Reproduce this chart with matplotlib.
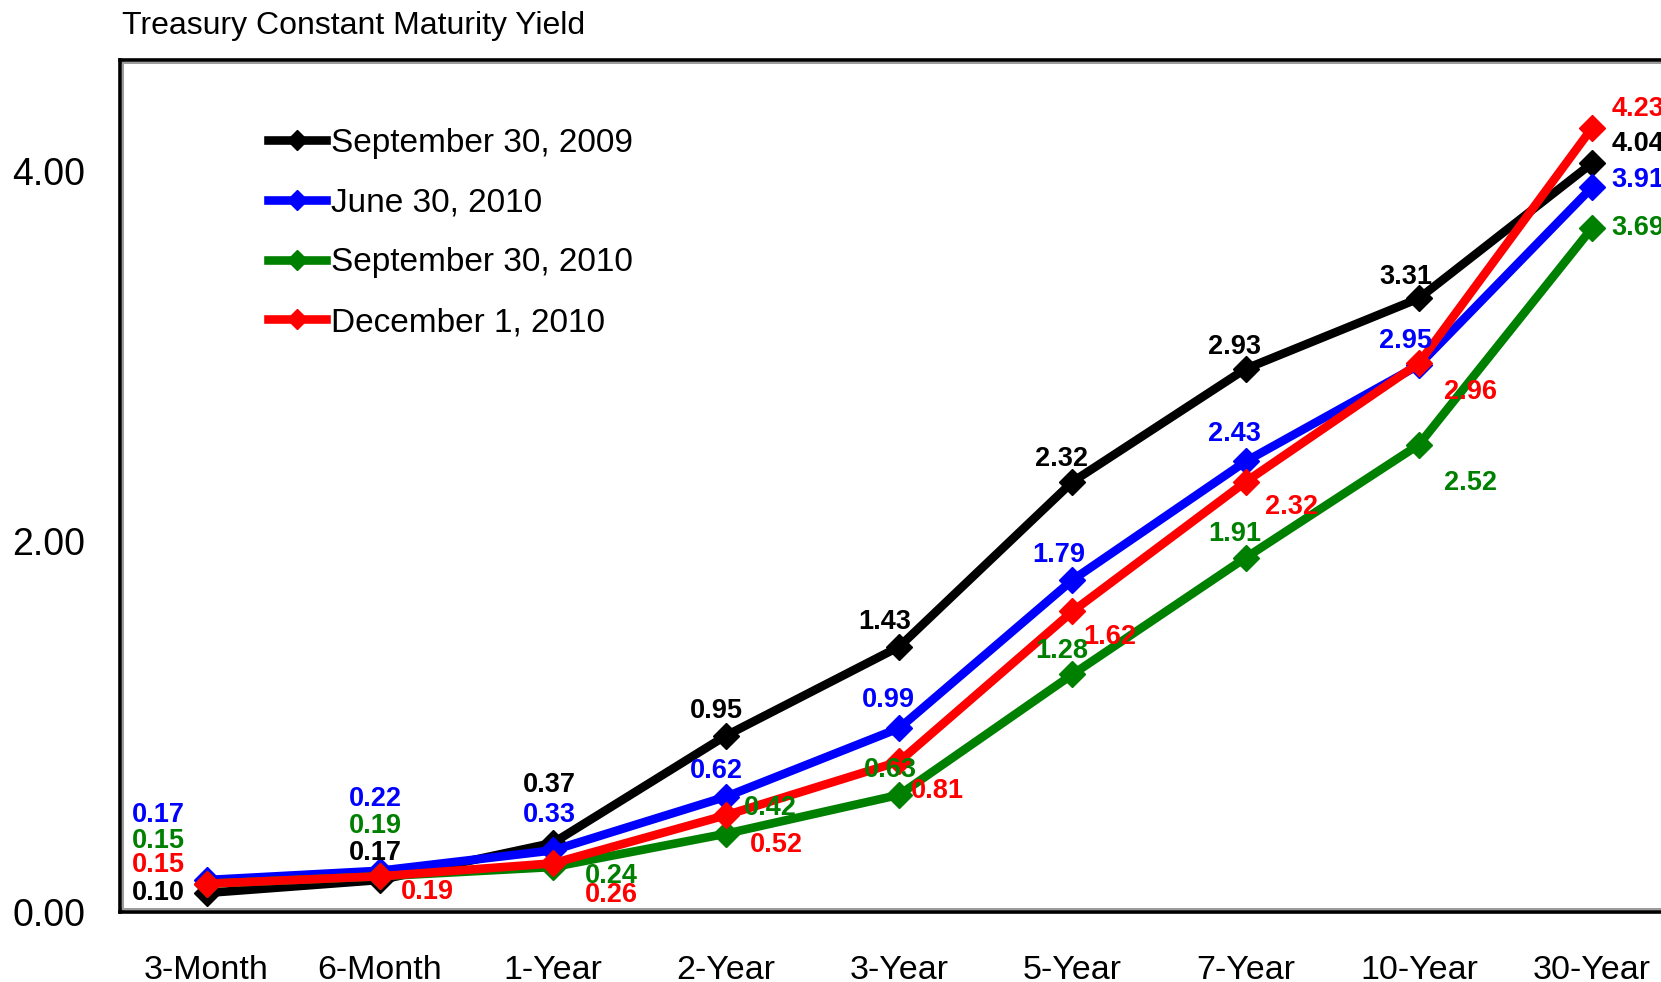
import numpy as np
import matplotlib
matplotlib.use('Agg')
import matplotlib.pyplot as plt
from matplotlib.transforms import offset_copy

plt.rcParams['font.family'] = ['Liberation Sans', 'DejaVu Sans']

# ---- data ----
maturities = ['3-Month', '6-Month', '1-Year', '2-Year', '3-Year',
              '5-Year', '7-Year', '10-Year', '30-Year']
sep_2009 = [0.10, 0.17, 0.37, 0.95, 1.43, 2.32, 2.93, 3.31, 4.04]
jun_2010 = [0.17, 0.22, 0.33, 0.62, 0.99, 1.79, 2.43, 2.95, 3.91]
sep_2010 = [0.15, 0.19, 0.24, 0.42, 0.63, 1.28, 1.91, 2.52, 3.69]
dec_2010 = [0.15, 0.19, 0.26, 0.52, 0.81, 1.62, 2.32, 2.96, 4.23]
series_names = ['September 30, 2009', 'June 30, 2010',
                'September 30, 2010', 'December 1, 2010']
y_ticks = [0, 2, 4]

# ---- styling ----
colors = ['#000000', '#0000ff', '#008000', '#ff0000']
# data label offsets (pixels, y up) from each marker
label_offsets = [
    [(-48, 0), (-4, 27), (-4, 58), (-10, 25), (-15, 25), (-11, 23), (-11, 22), (-13, 21), (46, 19)],
    [(-48, 65), (-4, 72), (-4, 35), (-10, 26), (-11, 28), (-14, 25), (-11, 27), (-13, 24), (46, 7)],
    [(-48, 43), (-4, 50), (58, -9), (44, 26), (-9, 25), (-11, 23), (-11, 24), (52, -38), (46, 0)],
    [(-48, 19), (48, -16), (58, -32), (50, -30), (38, -30), (37, -26), (46, -25), (52, -29), (46, 19)],
]

W, H = 1661, 982
fig = plt.figure(figsize=(W / 100, H / 100), dpi=100)
ax = fig.add_axes([120 / W, 70.5 / H, 1558.6 / W, 852 / H])

x = np.arange(len(maturities))
all_series = [sep_2009, jun_2010, sep_2010, dec_2010]
for vals, name, c, offs in zip(all_series, series_names, colors, label_offsets):
    ax.plot(x, vals, color=c, lw=6.2, marker='D', ms=13, label=name,
            clip_on=False)
    for xi, v, (dx, dy) in zip(x, vals, offs):
        ax.annotate(f'{v:.2f}', (xi, v), xytext=(dx, dy),
                    textcoords='offset pixels', ha='center', va='center',
                    color=c, fontsize=19.5, fontweight='bold',
                    annotation_clip=False)

ax.set_xlim(-0.5, 8.5)
ax.set_ylim(0, 4.6)
ax.set_xticks(x)
ax.set_xticklabels(maturities, fontsize=24.5)
ax.set_yticks(y_ticks)
ax.set_yticklabels([f'{t:.2f}' for t in y_ticks], fontsize=27)
ax.tick_params(axis='x', length=0, pad=31)
ax.tick_params(axis='y', length=0, pad=25)

for s in ax.spines.values():
    s.set_linewidth(2.6)
    s.set_color('black')

# thin grey inner line of the frame
gray = '#9a9a9a'
ax.plot([0, 0], [0, 1], color=gray, lw=1.4, clip_on=False,
        transform=offset_copy(ax.transAxes, fig, x=3, y=0, units='dots'))
ax.plot([0, 1], [1, 1], color=gray, lw=1.4, clip_on=False,
        transform=offset_copy(ax.transAxes, fig, x=0, y=-3, units='dots'))
ax.plot([0, 1], [0, 0], color=gray, lw=1.4, clip_on=False,
        transform=offset_copy(ax.transAxes, fig, x=0, y=3, units='dots'))

ax.legend(loc='upper left', bbox_to_anchor=(268 / W, 1 - 128 / H),
          bbox_transform=fig.transFigure, frameon=False, fontsize=24,
          handlelength=1.75, handletextpad=0.15, labelspacing=0.86,
          markerscale=0.75, borderpad=0, borderaxespad=0)

fig.text(122 / W, 1 - 26 / H, 'Treasury Constant Maturity Yield',
         fontsize=23, va='center', ha='left')

fig.savefig('out.png', dpi=100, facecolor='white')
